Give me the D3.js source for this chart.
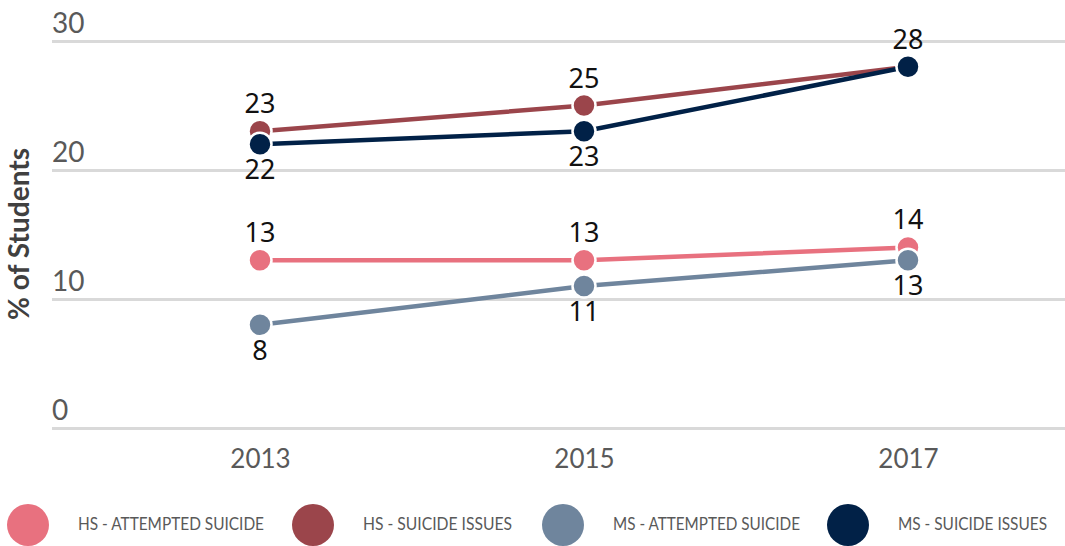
<!DOCTYPE html>
<html><head><meta charset="utf-8">
<script src="https://cdn.jsdelivr.net/npm/d3@7"></script>
<style>html,body{margin:0;padding:0;background:#fff;}svg{display:block;}</style>
</head><body>
<svg id="chart" width="1065" height="546"></svg>
<script>
const years = ["2013", "2015", "2017"];
const seriesNames = ["HS - ATTEMPTED SUICIDE", "HS - SUICIDE ISSUES", "MS - ATTEMPTED SUICIDE", "MS - SUICIDE ISSUES"];
const hsAttempted = [13, 13, 14];
const hsIssues = [23, 25, 28];
const msAttempted = [8, 11, 13];
const msIssues = [22, 23, 28];
const yTicks = [0, 10, 20, 30];
const colors = ["#e8717f", "#9b454b", "#6f859d", "#012147"];
const labelSide = [
  ["above", "above", "above"],
  ["above", "above", null],
  ["below", "below", "below"],
  ["below", "below", "above"]
];

const allSeries = [hsAttempted, hsIssues, msAttempted, msIssues];
const svg = d3.select("#chart");
const x = d3.scalePoint().domain(years).range([260, 908]);
const y = d3.scaleLinear().domain([0, 30]).range([428, 41]);

// gridlines + y tick labels
const yAxis = d3.axisLeft(y).tickValues(yTicks).tickSize(0).tickFormat(d => d);
const gy = svg.append("g").call(yAxis);
gy.select(".domain").remove();
gy.selectAll(".tick line").remove();
gy.selectAll(".tick").each(function() {
  const t = d3.select(this);
  t.append("line").attr("x1", 52).attr("x2", 1065).attr("y1", 0).attr("y2", 0)
    .attr("stroke", "#d9d9d9").attr("stroke-width", 3);
  t.select("text").attr("x", 52).attr("y", -9).attr("dy", 0)
    .attr("text-anchor", "start").attr("fill", "#595959")
    .style("font-family", "Lato, sans-serif").style("font-size", "28px");
});

// x axis labels
const xAxis = d3.axisBottom(x).tickSize(0);
const gx = svg.append("g").attr("transform", "translate(0,428)").call(xAxis);
gx.select(".domain").remove();
gx.selectAll(".tick text").attr("y", 40).attr("dy", 0).attr("fill", "#595959")
  .style("font-family", "Lato, sans-serif").style("font-size", "26px");

// y axis title
svg.append("text").attr("transform", "translate(29,234) rotate(-90)")
  .attr("text-anchor", "middle").attr("fill", "#404040")
  .style("font-family", "Lato, sans-serif").style("font-weight", "bold").style("font-size", "28px")
  .text("% of Students");

const line = d3.line().x((d, i) => x(years[i])).y(d => y(d));

allSeries.forEach((vals, s) => {
  const g = svg.append("g");
  g.append("path").datum(vals).attr("d", line).attr("fill", "none")
    .attr("stroke", colors[s]).attr("stroke-width", 4.5);
  g.selectAll("circle").data(vals).join("circle")
    .attr("cx", (d, i) => x(years[i])).attr("cy", d => y(d)).attr("r", 11.5)
    .attr("fill", colors[s]).attr("stroke", "#fff").attr("stroke-width", 2.5);
});

// data labels
allSeries.forEach((vals, s) => {
  svg.append("g").selectAll("text").data(vals.map((v, i) => ({v, i, side: labelSide[s][i]})).filter(d => d.side))
    .join("text")
    .attr("x", d => x(years[d.i]))
    .attr("y", d => y(d.v) + (d.side === "above" ? -18 : 35))
    .attr("text-anchor", "middle").attr("fill", "#111")
    .style("font-family", "'Noto Sans', sans-serif").style("font-size", "27px")
    .text(d => d.v);
});

// legend
const legX = [28, 313, 563, 848];
const legW = [186, 149, 187, 149];
const lg = svg.append("g");
seriesNames.forEach((name, s) => {
  lg.append("circle").attr("cx", legX[s]).attr("cy", 525).attr("r", 21).attr("fill", colors[s]);
  lg.append("text").attr("x", legX[s] + 50).attr("y", 530)
    .attr("textLength", legW[s]).attr("lengthAdjust", "spacingAndGlyphs")
    .attr("fill", "#595959")
    .style("font-family", "Lato, sans-serif").style("font-size", "17px")
    .text(name);
});
</script>
</body></html>
